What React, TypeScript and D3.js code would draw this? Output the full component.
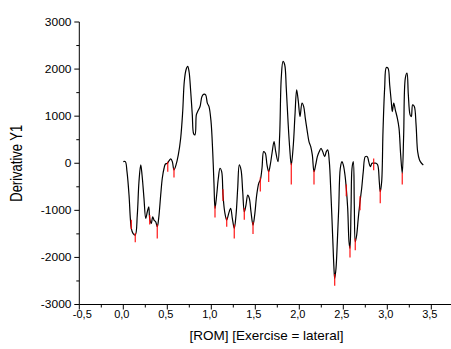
import React, { useEffect, useRef } from 'react';
import * as d3 from 'd3';

// ROM values (x) and derivative values (y)
const romX = [
  0.0, 0.023, 0.042, 0.065, 0.08, 0.091, 0.11, 0.136, 0.159, 0.178, 0.198, 0.213, 0.235, 0.255, 0.273, 0.289,
  0.3, 0.318, 0.334, 0.349, 0.368, 0.386, 0.402, 0.425, 0.443, 0.463, 0.477, 0.5, 0.519, 0.539, 0.557, 0.576,
  0.599, 0.625, 0.652, 0.675, 0.693, 0.713, 0.732, 0.747, 0.766, 0.784, 0.8, 0.815, 0.83, 0.845, 0.872, 0.894,
  0.917, 0.936, 0.955, 0.974, 0.997, 1.016, 1.031, 1.042, 1.061, 1.08, 1.099, 1.118, 1.133, 1.152, 1.175, 1.198,
  1.22, 1.239, 1.261, 1.281, 1.3, 1.318, 1.338, 1.357, 1.375, 1.394, 1.414, 1.432, 1.451, 1.474, 1.493, 1.516,
  1.539, 1.557, 1.576, 1.595, 1.614, 1.633, 1.652, 1.67, 1.69, 1.713, 1.732, 1.758, 1.777, 1.795, 1.815, 1.834,
  1.852, 1.872, 1.891, 1.909, 1.932, 1.951, 1.97, 1.989, 2.008, 2.031, 2.05, 2.068, 2.091, 2.11, 2.13, 2.148,
  2.167, 2.186, 2.205, 2.227, 2.247, 2.266, 2.289, 2.307, 2.323, 2.341, 2.36, 2.38, 2.394, 2.402, 2.417, 2.432,
  2.448, 2.466, 2.485, 2.5, 2.519, 2.534, 2.55, 2.565, 2.576, 2.588, 2.599, 2.614, 2.625, 2.636, 2.652, 2.67,
  2.69, 2.709, 2.727, 2.75, 2.773, 2.789, 2.807, 2.826, 2.845, 2.872, 2.891, 2.909, 2.92, 2.936, 2.951, 2.97,
  2.989, 3.008, 3.027, 3.045, 3.057, 3.073, 3.091, 3.114, 3.133, 3.152, 3.17, 3.186, 3.205, 3.224, 3.239, 3.259,
  3.273, 3.288, 3.307, 3.327, 3.345, 3.366, 3.389, 3.409,
];
const derivY = [
  34, 34, -179, -675, -1170, -1383, -1490, -1526, -1100, -392, -36, -249, -745, -1170, -1030, -924,
  -1170, -1277, -1136, -1207, -1243, -1349, -1170, -675, -319, -106, -21, 0, 49, 92, 34, -143,
  -36, 177, 532, 1098, 1736, 1985, 2056, 1949, 1524, 1028, 624, 603, 1028, 1098, 1204, 1417,
  1468, 1453, 1277, 1204, 885, 247, -462, -958, -675, -319, -106, -179, -675, -1030, -1207, -1064,
  -958, -1170, -1383, -1100, -532, -36, -143, -604, -1030, -887, -675, -745, -1030, -1313, -1100, -675,
  -426, -355, -106, 247, 213, -36, -179, -36, 213, 460, 247, 34, 602, 1809, 2162, 2092,
  1596, 885, 319, -36, 389, 1028, 1560, 1311, 992, 1277, 1204, 958, 672, 460, 353, 177,
  -179, -36, 140, 247, 319, 247, 140, 247, 283, 34, -675, -1596, -2234, -2447, -2234, -1668,
  -958, -106, 34, -36, -249, -532, -958, -1668, -1809, -958, -106, 34, -887, -1668, -1526, -1170,
  -817, -532, -179, 140, 140, 34, -72, 0, 0, 0, -36, -392, -604, -392, 672, 1596,
  2034, 2022, 1666, 1311, 1098, 1277, 1134, 958, 745, 177, -213, 602, 1809, 1915, 1453, 1028,
  992, 1241, 1204, 815, 247, 70, 0, -36,
];

// short red bars hanging off the local minima
const redBarX = [0.091, 0.136, 0.3, 0.386, 0.505, 0.576, 1.042, 1.133, 1.175, 1.261, 1.375, 1.474, 1.557, 1.652, 1.909, 2.167, 2.402, 2.534, 2.576, 2.636, 2.69, 2.845, 2.92, 3.17];
const redBarHigh = [-1200, -1480, -1100, -1300, 34, -100, -900, -550, -1150, -1300, -950, -1250, -300, -150, 0, -150, -2350, -450, -1750, -1600, -700, 100, -550, -200];
const redBarLow = [-1400, -1680, -1300, -1600, -179, -300, -1150, -800, -1350, -1600, -1200, -1500, -600, -400, -450, -450, -2600, -700, -2000, -1850, -1000, -150, -850, -450];

const xTicks = [-0.5, 0, 0.5, 1, 1.5, 2, 2.5, 3, 3.5];
const yTicks = [-3000, -2000, -1000, 0, 1000, 2000, 3000];

const fmt = (v: number) => d3.format('.1f')(v).replace('.', ',').replace('−', '-');

const App = () => {
  const svgRef = useRef<SVGSVGElement | null>(null);

  useEffect(() => {
    document.body.style.margin = '0';
    const width = 451;
    const height = 349;
    const svg = d3.select(svgRef.current).attr('width', width).attr('height', height);
    svg.selectAll('*').remove();

    const x = d3.scaleLinear().domain([-0.5, 4.0]).range([79.3, 475.3]);
    const y = d3.scaleLinear().domain([-3000, 3000]).range([304.5, 22]);
    const font = '"Liberation Sans", Arial, sans-serif';

    // y axis
    svg.append('line')
      .attr('x1', x(-0.5)).attr('x2', x(-0.5))
      .attr('y1', y(3000)).attr('y2', y(-3000))
      .attr('stroke', 'black');
    const yMinor = d3.range(-3000, 3001, 500);
    svg.selectAll('.ytick')
      .data(yMinor)
      .enter()
      .append('line')
      .attr('x1', d => x(-0.5) - (d % 1000 === 0 ? 5 : 3))
      .attr('x2', x(-0.5))
      .attr('y1', d => y(d)).attr('y2', d => y(d))
      .attr('stroke', 'black');
    svg.selectAll('.ylab')
      .data(yTicks)
      .enter()
      .append('text')
      .attr('transform', d => `translate(71.5,${y(d)}) scale(1.2,1)`)
      .attr('dy', '0.36em')
      .attr('text-anchor', 'end')
      .attr('font-family', font)
      .attr('font-size', 10)
      .text(d => String(d));

    // x axis
    svg.append('line')
      .attr('x1', x(-0.5)).attr('x2', width)
      .attr('y1', y(-3000)).attr('y2', y(-3000))
      .attr('stroke', 'black');
    const xMinor = d3.range(-0.5, 4.01, 0.25);
    svg.selectAll('.xtick')
      .data(xMinor)
      .enter()
      .append('line')
      .attr('x1', d => x(d)).attr('x2', d => x(d))
      .attr('y1', y(-3000))
      .attr('y2', (d, i) => y(-3000) + (i % 2 === 0 ? 5 : 3))
      .attr('stroke', 'black');
    svg.selectAll('.xlab')
      .data(xTicks)
      .enter()
      .append('text')
      .attr('transform', d => `translate(${x(d) + (d < 0 ? 3 : -1.5)},318) scale(1.1,1)`)
      .attr('text-anchor', 'middle')
      .attr('font-family', font)
      .attr('font-size', 10)
      .text(d => fmt(d));

    // titles
    svg.append('text')
      .attr('transform', 'translate(266.5,340)')
      .attr('text-anchor', 'middle')
      .attr('font-family', font)
      .attr('font-size', 13.5)
      .text('[ROM] [Exercise = lateral]');
    svg.append('text')
      .attr('transform', `translate(21.5,${y(0)}) scale(1.2,1) rotate(-90)`)
      .attr('text-anchor', 'middle')
      .attr('font-family', font)
      .attr('font-size', 13)
      .text('Derivative Y1');

    // curve
    const pts = romX.map((v, i) => [v, derivY[i]] as [number, number]);
    const line = d3.line<[number, number]>()
      .x(d => x(d[0]))
      .y(d => y(d[1]))
      .curve(d3.curveCatmullRom.alpha(0.5));
    svg.append('path')
      .datum(pts)
      .attr('d', line)
      .attr('fill', 'none')
      .attr('stroke', 'black')
      .attr('stroke-width', 1.2);

    // red bars
    svg.selectAll('.redbar')
      .data(redBarX)
      .enter()
      .append('line')
      .attr('x1', d => x(d)).attr('x2', d => x(d))
      .attr('y1', (d, i) => y(redBarHigh[i]))
      .attr('y2', (d, i) => y(redBarLow[i]))
      .attr('stroke', 'red')
      .attr('stroke-opacity', 0.85)
      .attr('stroke-width', 1.3);
  }, []);

  return (
    <div>
      <svg ref={svgRef} style={{ display: 'block' }}></svg>
    </div>
  );
};

export default App;
